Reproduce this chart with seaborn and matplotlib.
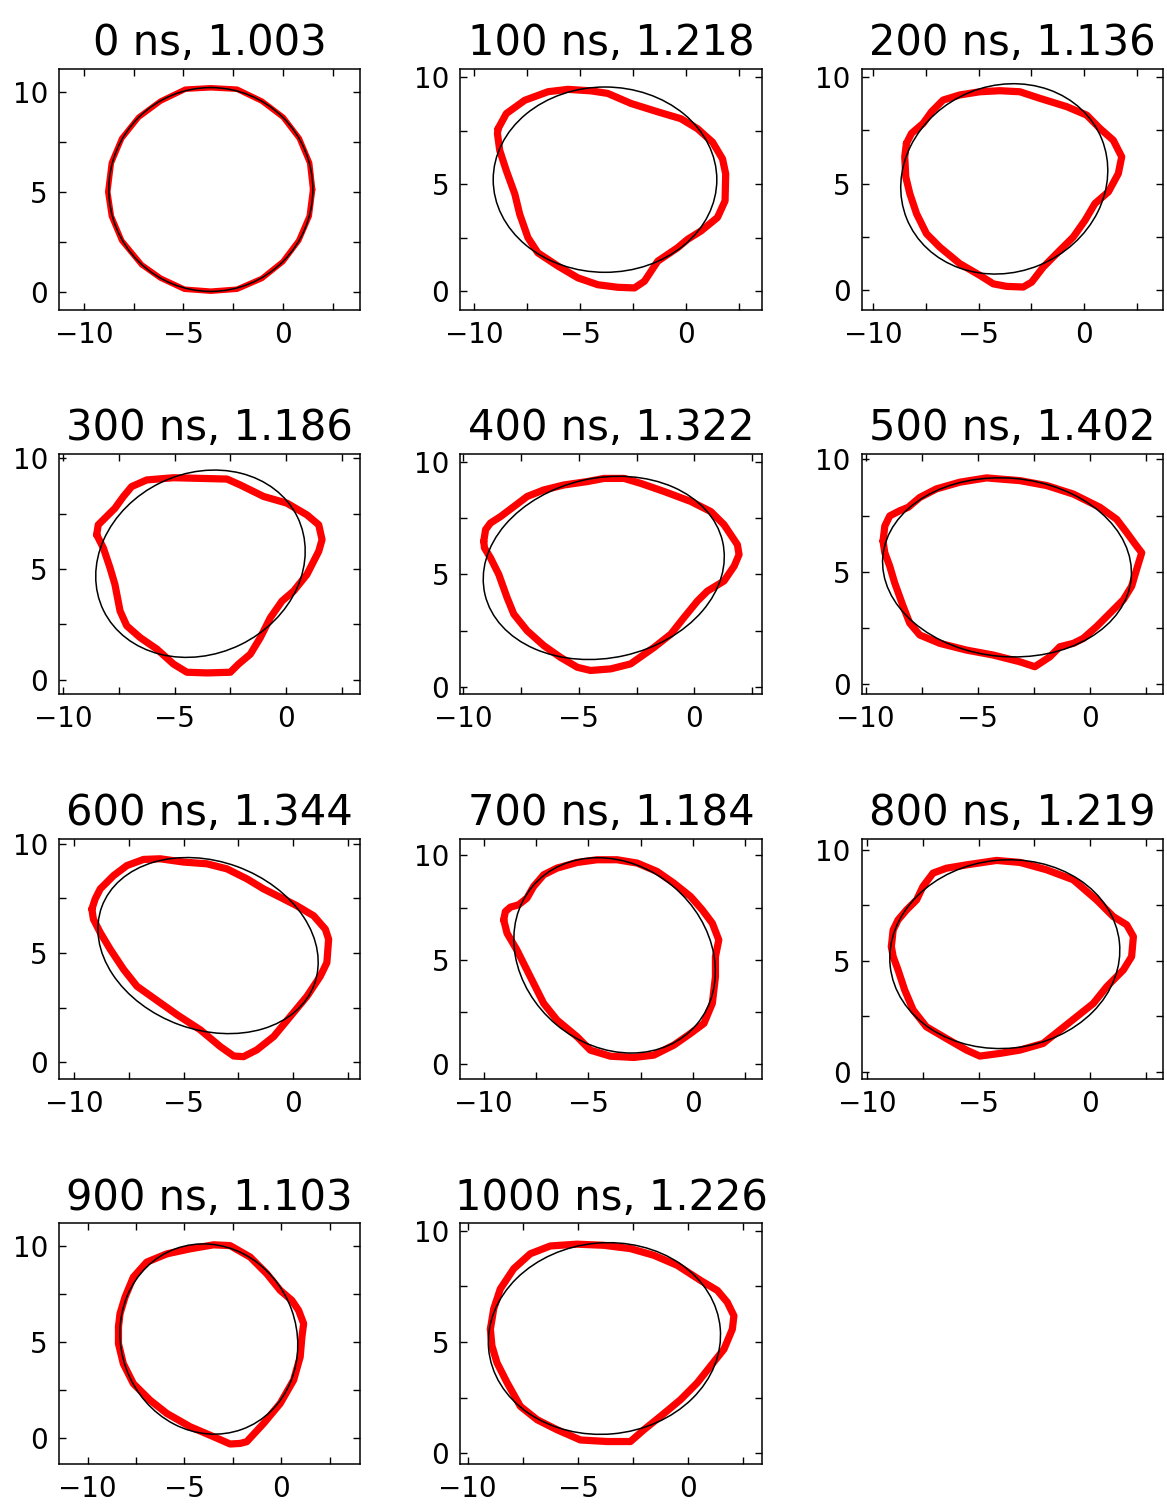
import numpy as np
import seaborn as sns
import matplotlib
matplotlib.use("Agg")
import matplotlib.pyplot as plt
from matplotlib.patches import Ellipse
from matplotlib.ticker import MultipleLocator

# snapshot times (ns) and aspect ratio of the fitted ellipse
times = [0, 100, 200, 300, 400, 500, 600, 700, 800, 900, 1000]
ratios = [1.003, 1.218, 1.136, 1.186, 1.322, 1.402, 1.344, 1.184, 1.219, 1.103, 1.226]

# traced rim of the object (red) for each snapshot
rim_x_0 = [1.50, 1.35, 0.83, 0.02, -1.05, -2.3, -3.62, -4.9, -6.15, -7.25, -8.1, -8.62, -8.8,
           -8.62, -8.1, -7.1, -6.15, -4.95, -3.62, -2.3, -1.05, 0.0, 0.8, 1.33]
rim_y_0 = [5.12, 6.45, 7.68, 8.74, 9.55, 10.15, 10.22, 10.15, 9.55, 8.74, 7.68, 6.45, 5.0,
           3.79, 2.56, 1.35, 0.68, 0.12, 0.02, 0.12, 0.66, 1.5, 2.56, 3.79]

rim_x_100 = [-8.87, -8.48, -7.61, -6.51, -5.57, -4.47, -3.69, -2.59, -1.33, -0.24, 0.55, 1.26, 1.73,
             1.88, 1.85, 1.49, 0.71, 0.08, -0.39, -1.33, -1.96, -2.43, -3.22, -4.16, -5.10, -6.04,
             -6.99, -7.46, -7.85, -8.08, -8.48, -8.79, -8.90]
rim_y_100 = [7.60, 8.31, 8.93, 9.33, 9.44, 9.37, 9.25, 8.78, 8.39, 8.07, 7.60, 6.97, 6.19,
             5.49, 4.23, 3.45, 2.82, 2.43, 2.04, 1.41, 0.47, 0.16, 0.19, 0.31, 0.63, 1.18,
             1.80, 2.51, 3.61, 4.55, 5.64, 6.58, 7.37]

rim_x_200 = [-8.42, -8.18, -7.63, -7.23, -6.68, -5.89, -4.94, -3.99, -3.04, -2.09, -0.82, 0.13, 0.76,
             1.39, 1.79, 1.63, 1.16, 0.52, 0.05, -0.51, -1.14, -1.93, -2.48, -2.88, -3.67, -4.30,
             -4.94, -5.89, -6.84, -7.47, -7.94, -8.26, -8.45, -8.50]
rim_y_200 = [6.89, 7.36, 7.83, 8.38, 8.93, 9.17, 9.32, 9.37, 9.32, 9.01, 8.62, 8.22, 7.59,
             7.04, 6.26, 5.47, 4.61, 4.06, 3.27, 2.48, 1.86, 1.07, 0.36, 0.13, 0.16, 0.28,
             0.68, 1.23, 2.01, 2.64, 3.58, 4.53, 5.31, 6.26]

rim_x_300 = [-8.50, -8.43, -8.05, -7.68, -7.30, -6.93, -6.25, -5.05, -3.85, -2.65, -2.05, -1.00, 0.04,
             0.94, 1.47, 1.62, 1.47, 0.94, 0.34, -0.18, -0.70, -1.15, -1.60, -2.13, -2.50, -3.55,
             -4.45, -5.05, -5.80, -6.55, -7.15, -7.45, -7.68, -7.90, -8.20]
rim_y_300 = [6.55, 7.00, 7.38, 7.75, 8.28, 8.73, 9.03, 9.13, 9.10, 9.07, 8.80, 8.28, 7.98,
             7.45, 7.00, 6.33, 5.80, 4.75, 4.00, 3.55, 2.80, 1.90, 1.15, 0.70, 0.33, 0.30,
             0.33, 0.70, 1.38, 1.90, 2.43, 3.10, 4.30, 5.05, 5.95]

rim_x_400 = [-9.11, -9.03, -8.82, -8.38, -7.81, -7.23, -6.51, -5.64, -4.63, -3.91, -3.04, -2.32, -1.31,
             -0.16, 0.71, 1.28, 1.86, 1.93, 1.72, 1.28, 0.56, 0.13, -0.45, -1.02, -1.75, -2.76,
             -3.62, -4.49, -5.06, -5.79, -6.51, -7.23, -7.81, -8.10, -8.46, -8.82, -9.08]
rim_y_400 = [6.47, 6.99, 7.28, 7.57, 8.01, 8.46, 8.75, 8.97, 9.12, 9.26, 9.26, 9.04, 8.68,
             8.24, 7.79, 7.21, 6.32, 5.88, 5.37, 4.71, 4.26, 3.82, 3.09, 2.35, 1.76, 1.03,
             0.81, 0.74, 0.88, 1.32, 1.84, 2.50, 3.24, 3.97, 5.00, 5.74, 6.18]

rim_x_500 = [-9.23, -9.15, -8.93, -8.48, -8.11, -7.59, -6.85, -5.80, -4.61, -4.02, -3.13, -1.93, -0.74,
             0.45, 1.19, 1.64, 2.08, 2.31, 2.08, 1.86, 1.49, 0.89, 0.30, -0.30, -0.74, -1.34,
             -1.79, -2.46, -3.13, -4.32, -5.51, -6.70, -7.59, -8.04, -8.33, -8.71, -8.93, -9.15]
rim_y_500 = [6.37, 7.04, 7.49, 7.72, 7.87, 8.31, 8.69, 8.99, 9.18, 9.13, 9.06, 8.84, 8.46,
             7.87, 7.34, 6.75, 6.15, 5.85, 5.10, 4.36, 3.76, 3.16, 2.57, 2.04, 1.82, 1.67,
             1.22, 0.78, 1.00, 1.30, 1.52, 1.82, 2.19, 2.72, 3.46, 4.51, 5.25, 5.85]

rim_x_600 = [-9.19, -9.04, -8.81, -8.20, -7.59, -6.83, -6.07, -5.00, -3.93, -3.02, -2.10, -1.34, -0.58,
             0.18, 0.95, 1.48, 1.63, 1.55, 1.25, 0.64, -0.12, -0.88, -1.65, -2.26, -2.71, -3.32,
             -4.24, -5.30, -6.37, -7.13, -7.74, -8.35, -8.81, -9.12]
rim_y_600 = [7.01, 7.47, 7.93, 8.54, 9.00, 9.28, 9.31, 9.16, 9.08, 8.85, 8.39, 7.93, 7.55,
             7.16, 6.70, 6.09, 5.63, 4.56, 3.94, 3.02, 2.10, 1.18, 0.57, 0.26, 0.29, 0.72,
             1.49, 2.18, 2.94, 3.48, 4.25, 5.17, 5.94, 6.55]

rim_x_700 = [-9.04, -8.96, -8.72, -8.33, -7.93, -7.61, -7.13, -6.49, -5.53, -4.58, -3.62, -2.66, -1.71,
             -0.91, -0.11, 0.45, 0.93, 1.24, 1.08, 1.08, 0.93, 0.53, -0.11, -0.91, -1.87, -2.82,
             -3.94, -4.90, -5.53, -6.49, -7.13, -7.77, -8.41, -8.88]
rim_y_700 = [6.91, 7.31, 7.52, 7.63, 7.95, 8.51, 9.07, 9.39, 9.66, 9.79, 9.79, 9.63, 9.23,
             8.67, 8.03, 7.39, 6.75, 5.95, 5.15, 4.19, 2.91, 1.95, 1.47, 0.91, 0.43, 0.32,
             0.38, 0.67, 1.31, 2.11, 2.91, 4.19, 5.47, 6.27]

rim_x_800 = [-8.91, -8.83, -8.61, -8.23, -7.78, -7.49, -7.04, -6.44, -5.54, -4.19, -3.14, -1.95, -0.75,
             0.30, 1.05, 1.65, 1.95, 1.87, 1.50, 0.75, 0.15, -0.60, -1.35, -2.10, -3.14, -4.04,
             -4.94, -5.54, -6.44, -7.34, -7.93, -8.31, -8.61, -8.83]
rim_y_800 = [5.64, 6.39, 6.84, 7.29, 7.74, 8.35, 8.95, 9.17, 9.32, 9.52, 9.43, 9.10, 8.65,
             7.74, 6.99, 6.62, 6.09, 5.19, 4.59, 3.83, 3.08, 2.48, 1.88, 1.28, 0.98, 0.83,
             0.71, 0.98, 1.50, 2.03, 2.78, 3.68, 4.59, 5.19]

rim_x_900 = [-8.41, -8.33, -8.07, -7.64, -6.95, -5.91, -4.71, -3.50, -2.64, -1.60, -0.74, -0.05, 0.55,
             0.90, 1.16, 1.07, 0.98, 0.64, -0.05, -0.91, -1.78, -2.12, -2.64, -3.50, -4.71, -5.91,
             -6.78, -7.64, -8.16, -8.41]
rim_y_900 = [5.80, 6.49, 7.35, 8.39, 9.17, 9.60, 9.86, 10.07, 10.03, 9.43, 8.56, 7.70, 7.18,
             6.66, 5.97, 5.28, 4.24, 3.03, 1.82, 0.78, -0.17, -0.26, -0.29, 0.09, 0.61, 1.30,
             1.99, 2.85, 3.89, 4.93]

rim_x_1000 = [-8.97, -8.82, -8.52, -7.91, -7.16, -6.25, -5.04, -3.83, -2.62, -1.56, -0.50, 0.56, 1.32,
              1.77, 2.07, 2.00, 1.62, 1.01, 0.41, -0.35, -1.26, -2.01, -2.62, -3.68, -4.89, -5.95,
              -6.85, -7.61, -8.21, -8.67, -8.90]
rim_y_1000 = [5.58, 6.49, 7.39, 8.30, 8.97, 9.32, 9.40, 9.35, 9.20, 8.90, 8.45, 7.77, 7.32,
              6.79, 6.18, 5.58, 4.68, 3.92, 3.17, 2.41, 1.66, 1.06, 0.53, 0.53, 0.60, 1.06,
              1.51, 2.11, 3.17, 4.07, 4.83]

rims_x = [rim_x_0, rim_x_100, rim_x_200, rim_x_300, rim_x_400, rim_x_500,
          rim_x_600, rim_x_700, rim_x_800, rim_x_900, rim_x_1000]
rims_y = [rim_y_0, rim_y_100, rim_y_200, rim_y_300, rim_y_400, rim_y_500,
          rim_y_600, rim_y_700, rim_y_800, rim_y_900, rim_y_1000]

# fitted ellipse (black): centre, semi-axes, rotation in degrees
fit_cx = [-3.62, -3.82, -3.78, -3.84, -3.92, -3.70, -3.88, -3.74, -3.82, -3.74, -3.80]
fit_cy = [5.12, 5.22, 5.22, 5.24, 5.29, 5.20, 5.34, 5.21, 5.30, 5.17, 5.16]
fit_a = [5.13, 5.28, 4.99, 4.84, 5.27, 5.56, 5.17, 5.13, 5.17, 5.00, 5.27]
fit_b = [5.11, 4.33, 4.39, 4.08, 3.99, 3.97, 3.85, 4.33, 4.24, 4.54, 4.30]
fit_angle = [0, 0, 22, 26, 13, -5, -20, -40, 6, 110, 5]

# axis ranges of each panel
x_lims = [(-11.25, 3.9), (-10.65, 3.58), (-10.54, 3.75), (-10.19, 3.34), (-10.12, 2.91), (-10.18, 3.26),
          (-10.69, 3.08), (-11.11, 3.29), (-10.24, 3.28), (-11.48, 4.09), (-10.33, 3.33)]
y_lims = [(-0.9, 11.16), (-0.85, 10.39), (-0.93, 10.39), (-0.67, 10.21), (-0.32, 10.35), (-0.45, 10.25),
          (-0.77, 10.23), (-0.72, 10.8), (-0.33, 10.5), (-1.33, 11.18), (-0.48, 10.33)]

sns.set_style("ticks")
plt.rcParams['font.family'] = ['DejaVu Sans']
plt.rcParams['text.color'] = 'black'
plt.rcParams['xtick.color'] = 'black'
plt.rcParams['ytick.color'] = 'black'
plt.rcParams['axes.edgecolor'] = 'black'

fig, axes = plt.subplots(4, 3, figsize=(11.67, 15.04), dpi=100)
fig.subplots_adjust(left=0.0506, right=0.9966, top=0.9541, bottom=0.0266,
                    wspace=0.332, hspace=0.6)

for i, ax in enumerate(axes.flat):
    if i >= len(times):
        ax.axis('off')
        continue
    xs = rims_x[i] + [rims_x[i][0]]
    ys = rims_y[i] + [rims_y[i][0]]
    lw = 4.0 if i == 0 else 5.2
    sns.lineplot(x=xs, y=ys, sort=False, estimator=None, color='red', linewidth=lw,
                 solid_joinstyle='round', solid_capstyle='round', ax=ax)
    ax.add_patch(Ellipse((fit_cx[i], fit_cy[i]), 2 * fit_a[i], 2 * fit_b[i], angle=fit_angle[i],
                         fill=False, edgecolor='black', linewidth=1.1, zorder=5))
    ax.set_xlim(*x_lims[i])
    ax.set_ylim(*y_lims[i])
    ax.xaxis.set_major_locator(MultipleLocator(5))
    ax.xaxis.set_minor_locator(MultipleLocator(2.5))
    ax.yaxis.set_major_locator(MultipleLocator(5))
    ax.yaxis.set_minor_locator(MultipleLocator(2.5))
    ax.tick_params(which='both', direction='in', top=True, right=True,
                   length=5, width=1, color='black')
    ax.tick_params(which='major', labelsize=20, pad=8, labelcolor='black')
    for s in ax.spines.values():
        s.set_linewidth(1.1)
        s.set_color('black')
    ax.set_xlabel('')
    ax.set_ylabel('')
    ax.set_title(f"{times[i]} ns, {ratios[i]:.3f}", fontsize=30, pad=10, color='black')

fig.savefig('out.png', dpi=100)
